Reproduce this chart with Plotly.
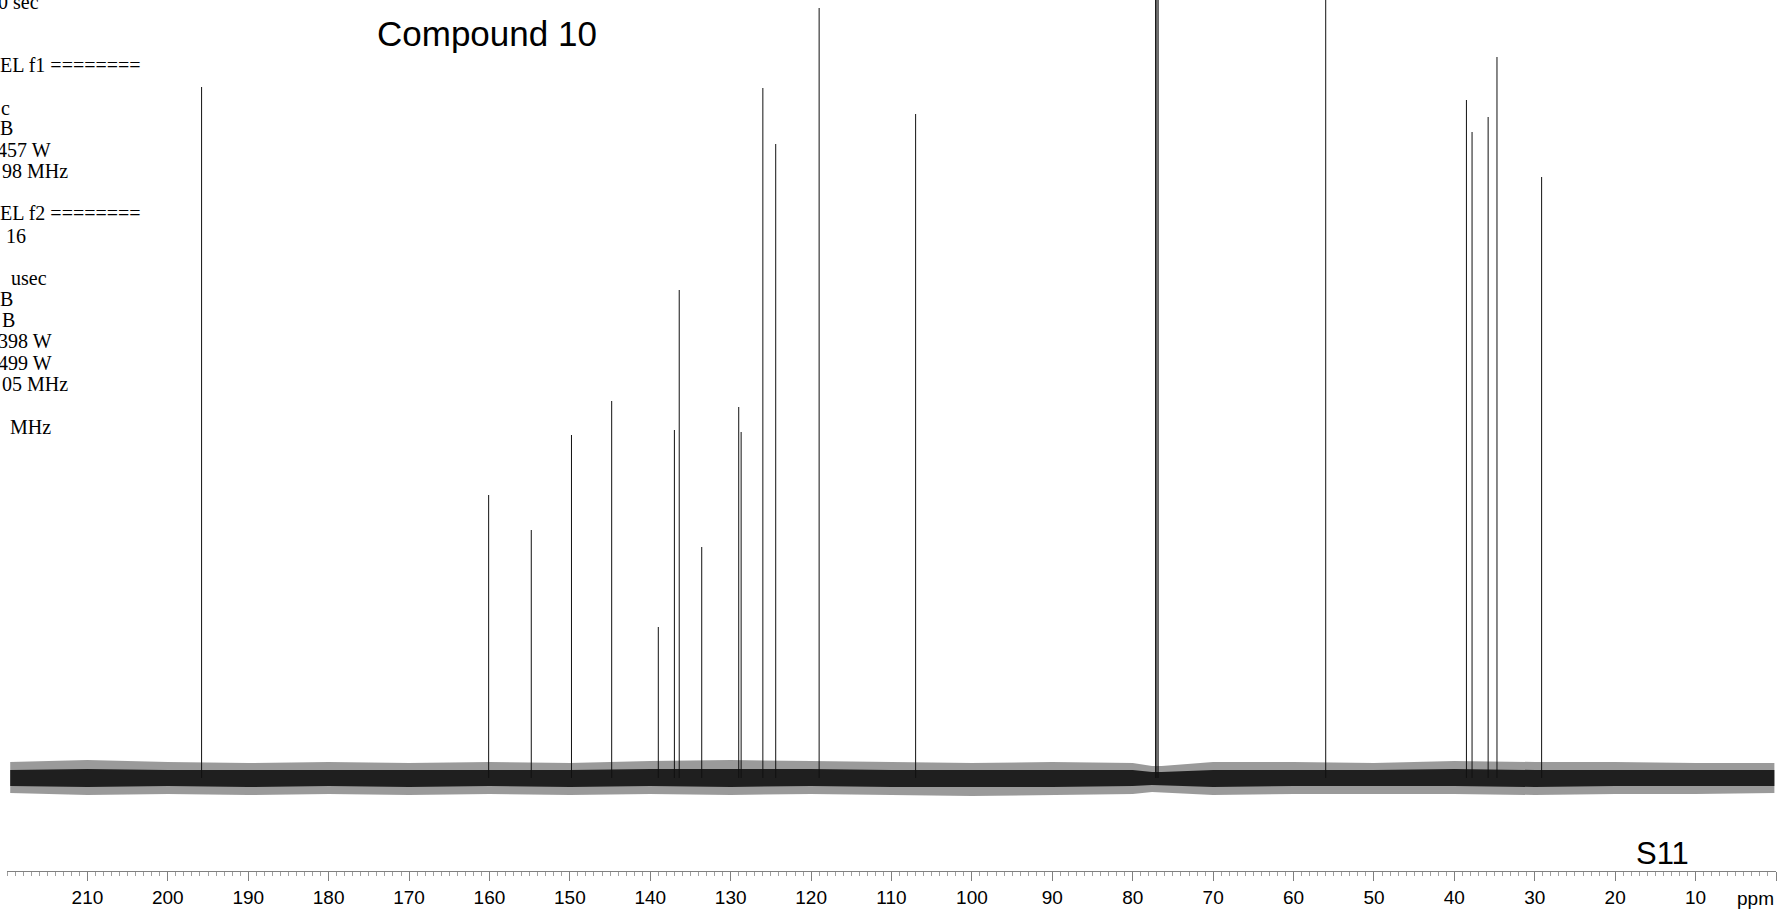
import plotly.graph_objects as go

# ---- data (13C NMR, CDCl3) ----
peak_ppm = [195.8, 160.1, 154.8, 149.8, 144.8, 139.0, 137.0, 136.4, 133.6,
            129.0, 128.7, 126.0, 124.4, 119.0, 107.0,
            77.16, 77.0, 76.84, 56.0,
            38.5, 37.8, 35.8, 34.7, 29.15]
peak_int = [691, 283, 248, 343, 377, 151, 348, 488, 231,
            371, 346, 690, 634, 770, 664,
            1500, 1600, 1500, 1400,
            678, 646, 661, 721, 601]

# baseline noise envelope (outer spikes and dense core), intensity units
noise_ppm = [219.6, 210, 200, 190, 180, 170, 160, 150, 140, 130, 120, 110, 100,
             90, 80, 77.6, 76.4, 70, 60, 50, 40, 30, 20, 10, 0.2]
noise_hi = [16, 18, 16, 15, 16, 15, 16, 15, 17, 18, 17, 16, 15,
            16, 15, 12, 12, 16, 16, 15, 17, 16, 16, 15, 15]
noise_lo = [-15, -17, -16, -17, -16, -17, -16, -17, -16, -17, -16, -17, -18,
            -17, -16, -14, -14, -17, -16, -16, -16, -17, -16, -16, -15]
core_hi = [8, 9, 8, 8, 8, 8, 8, 8, 9, 9, 9, 8, 8, 8, 8, 6, 6, 8, 8, 8, 9, 8, 8, 8, 8]
core_lo = [-8, -9, -8, -9, -8, -9, -8, -9, -8, -9, -8, -9, -9, -9, -8, -7, -7, -9, -8, -8, -8, -9, -8, -8, -8]

major_ticks = [210, 200, 190, 180, 170, 160, 150, 140, 130, 120, 110, 100,
               90, 80, 70, 60, 50, 40, 30, 20, 10, 0]
major_labels = [str(v) for v in major_ticks[:-1]] + [""]

param_lines = [
    ("0 sec", -3, 2),
    ("EL f1 ========", -1, 65),
    ("c", 0, 108),
    ("B", -1, 128),
    ("457 W", -4, 150),
    ("98 MHz", 1, 171),
    ("EL f2 ========", -1, 213),
    ("16", 5, 236),
    ("usec", 10, 278),
    ("B", -1, 299),
    ("B", 1, 320),
    ("398 W", -3, 341),
    ("499 W", -3, 363),
    ("05 MHz", 1, 384),
    ("MHz", 9, 427),
]

W, H = 1778, 913
ML, MR, MT, MB = 7, 2, 0, 42
PW, PH = W - ML - MR, H - MT - MB

fig = go.Figure()

# noise envelope
fig.add_trace(go.Scatter(
    x=noise_ppm + noise_ppm[::-1], y=noise_hi + noise_lo[::-1],
    fill="toself", mode="lines", line=dict(width=0),
    fillcolor="rgba(30,30,30,0.45)", hoverinfo="skip", showlegend=False))
fig.add_trace(go.Scatter(
    x=noise_ppm + noise_ppm[::-1], y=core_hi + core_lo[::-1],
    fill="toself", mode="lines", line=dict(width=0),
    fillcolor="rgba(0,0,0,0.8)", hoverinfo="skip", showlegend=False))

# peaks as stick lines
xs, ys = [], []
for p, h in zip(peak_ppm, peak_int):
    xs += [p, p, None]
    ys += [0, h, None]
fig.add_trace(go.Scatter(x=xs, y=ys, mode="lines",
                         line=dict(color="#111111", width=1),
                         hoverinfo="skip", showlegend=False))

ann = []
ann.append(dict(text="Compound 10", x=160.27, xref="x", y=1 - 33 / PH, yref="paper",
                showarrow=False, xanchor="center", yanchor="middle",
                font=dict(family="Liberation Sans, Arial", size=35, color="black")))
ann.append(dict(text="S11", x=14.17, xref="x", y=1 - 853 / PH, yref="paper",
                showarrow=False, xanchor="center", yanchor="middle",
                font=dict(family="Liberation Sans, Arial", size=31, color="black")))
ann.append(dict(text="ppm", x=2.6, xref="x", y=1 - 898 / PH, yref="paper",
                showarrow=False, xanchor="center", yanchor="middle",
                font=dict(family="Liberation Sans, Arial", size=19, color="black")))
for txt, px, py in param_lines:
    ann.append(dict(text=txt, x=(px - ML) / PW, xref="paper", y=1 - py / PH, yref="paper",
                    showarrow=False, xanchor="left", yanchor="middle", borderpad=0,
                    font=dict(family="Liberation Serif, Times New Roman", size=20, color="black")))

fig.update_layout(
    width=W, height=H,
    margin=dict(l=ML, r=MR, t=MT, b=MB, pad=0),
    paper_bgcolor="white", plot_bgcolor="white",
    showlegend=False,
    annotations=ann,
    xaxis=dict(range=[220, 0], tickmode="array", tickvals=major_ticks, ticktext=major_labels,
               ticks="outside", ticklen=9, tickwidth=1, tickcolor="#808080",
               showline=True, linecolor="#808080", linewidth=1,
               showgrid=False, zeroline=False,
               tickfont=dict(family="Liberation Sans, Arial", size=19, color="black"),
               minor=dict(tickmode="linear", tick0=0, dtick=1, ticks="outside",
                          ticklen=4, tickwidth=1, tickcolor="#a0a0a0", showgrid=False)),
    yaxis=dict(range=[-93, 778], visible=False, showgrid=False, zeroline=False),
)

fig.write_html("out.html", config={"displayModeBar": False},
               post_script="document.body.style.margin='0';document.body.style.overflow='hidden';")
